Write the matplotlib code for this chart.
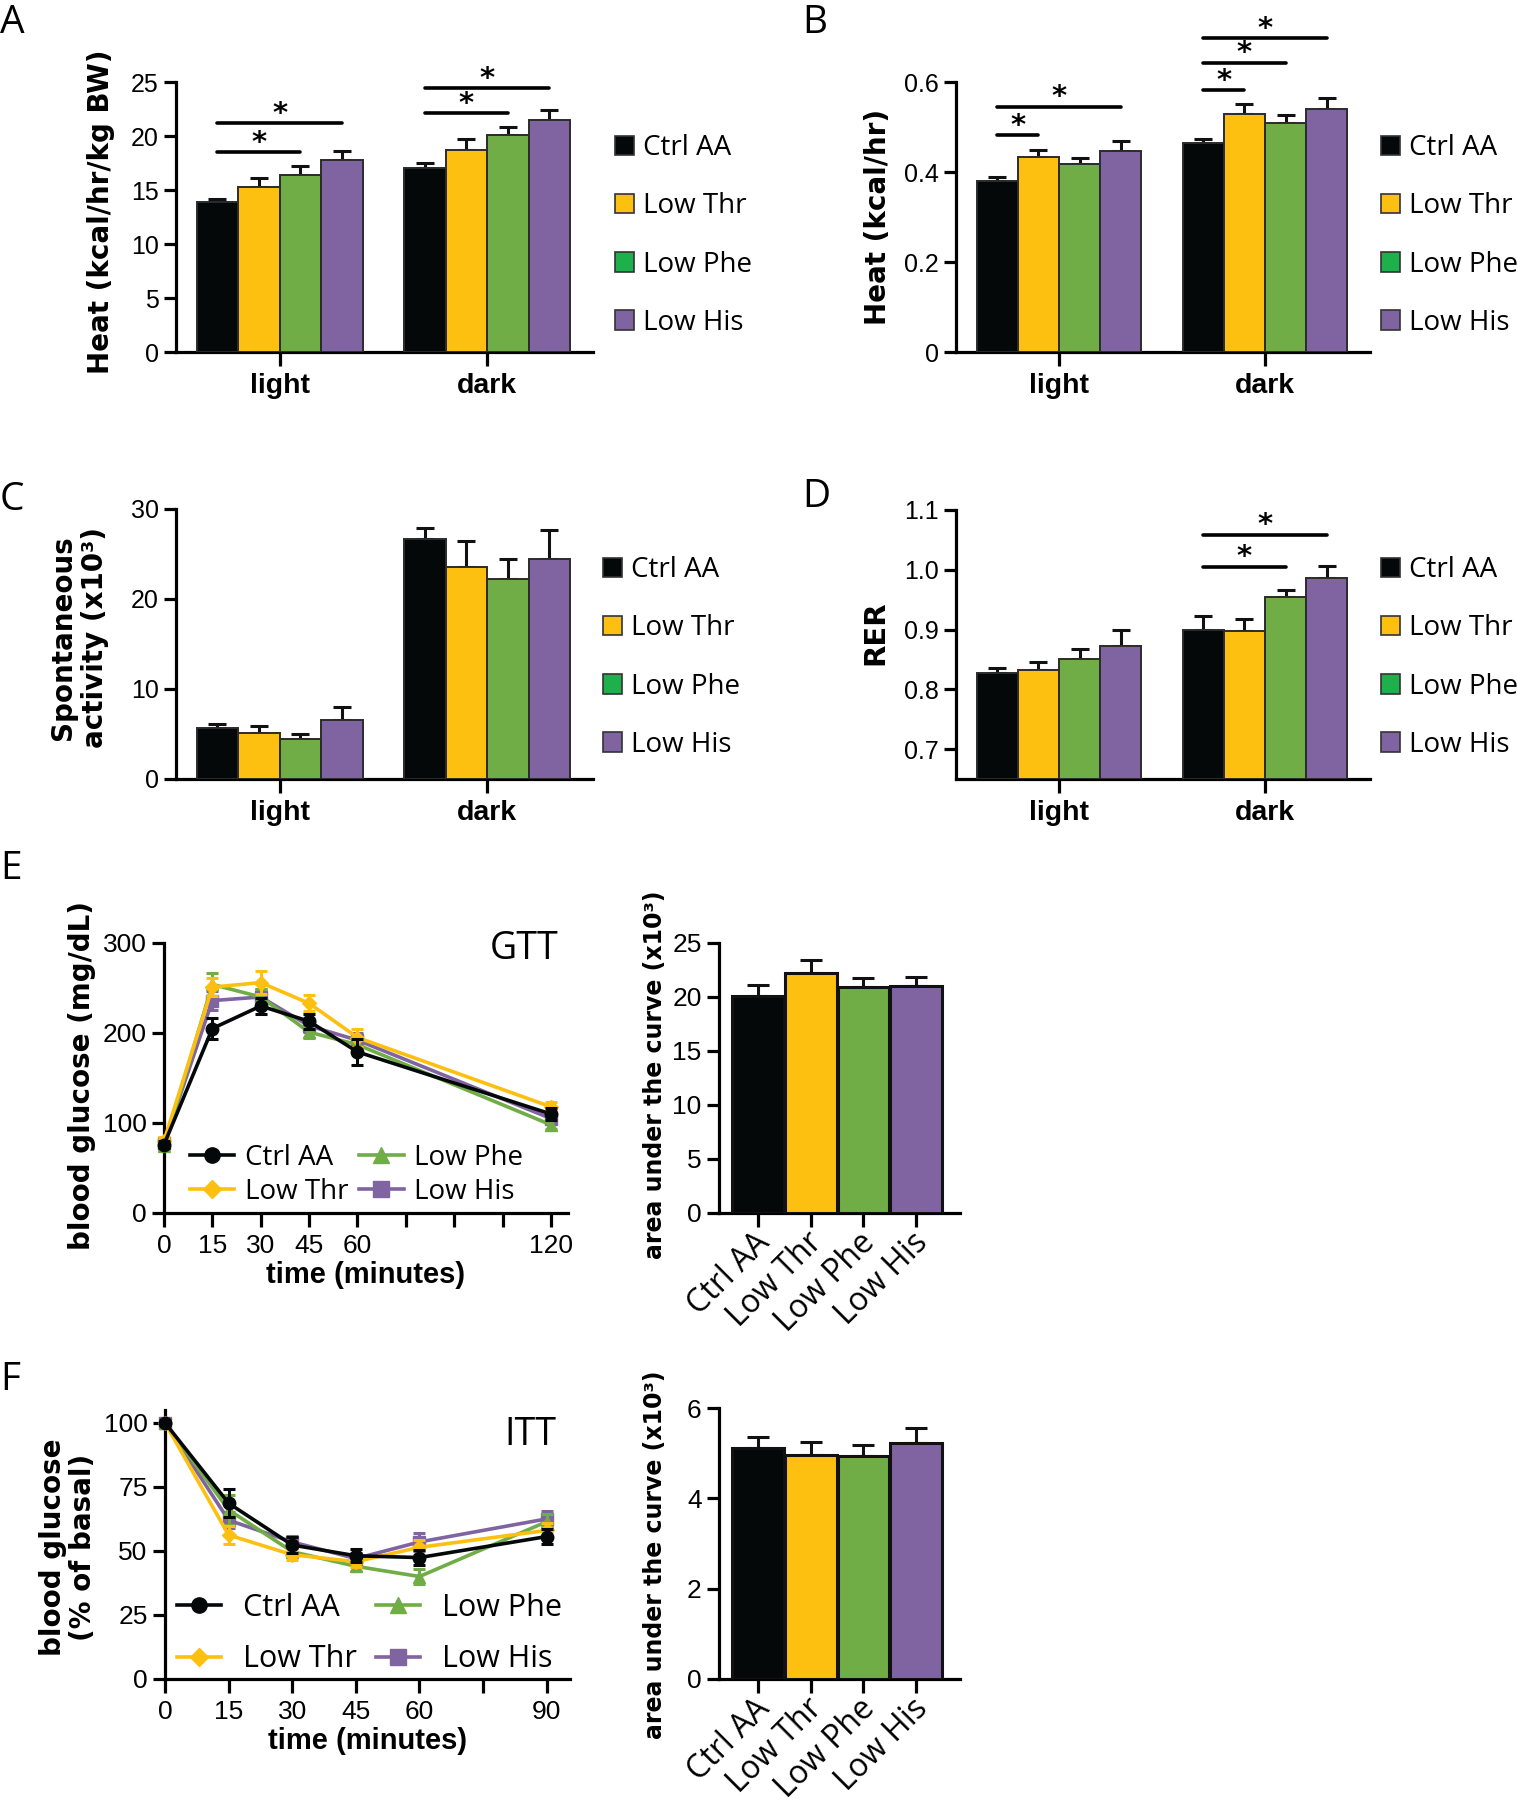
import numpy as np
import matplotlib.pyplot as plt
import matplotlib.transforms as mtransforms
from matplotlib.patches import Patch
from matplotlib.lines import Line2D

groups = ['Ctrl AA', 'Low Thr', 'Low Phe', 'Low His']
periods = ['light', 'dark']
colors = ['#050808', '#FDC010', '#70AD47', '#8064A2']
legend_colors = ['#050808', '#FDC010', '#1EB04B', '#8064A2']
markers = ['o', 'D', '^', 's']

# bar panels: rows = light / dark, columns = groups
heat_bw = [[13.9, 15.3, 16.4, 17.8], [17.0, 18.7, 20.1, 21.5]]
heat_bw_err = [[0.3, 0.8, 0.8, 0.8], [0.5, 1.0, 0.7, 0.9]]
heat_bw_sig = [(0, 0, 2, 18.5), (0, 0, 3, 21.2), (1, 0, 2, 22.1), (1, 0, 3, 24.4)]

heat = [[0.381, 0.434, 0.418, 0.446], [0.465, 0.528, 0.510, 0.540]]
heat_err = [[0.009, 0.016, 0.014, 0.023], [0.009, 0.023, 0.016, 0.024]]
heat_sig = [(0, 0, 1, 0.482), (0, 0, 3, 0.545), (1, 0, 1, 0.582), (1, 0, 2, 0.643), (1, 0, 3, 0.698)]

activity = [[5.7, 5.1, 4.4, 6.6], [26.7, 23.6, 22.2, 24.4]]
activity_err = [[0.4, 0.75, 0.65, 1.4], [1.15, 2.8, 2.2, 3.3]]

rer = [[0.827, 0.833, 0.850, 0.873], [0.900, 0.898, 0.955, 0.987]]
rer_err = [[0.009, 0.013, 0.018, 0.026], [0.023, 0.020, 0.011, 0.020]]
rer_sig = [(1, 0, 2, 1.005), (1, 0, 3, 1.059)]

# glucose tolerance test
gtt_time = [0, 15, 30, 45, 60, 120]
gtt_mean = [[76, 205, 230, 213, 179, 110],
            [80, 251, 256, 233, 195, 118],
            [74, 254, 240, 201, 187, 98],
            [78, 236, 240, 208, 192, 105]]
gtt_err = [[4, 12, 9, 8, 14, 7],
           [5, 10, 13, 9, 10, 5],
           [4, 13, 9, 6, 9, 5],
           [4, 11, 9, 7, 8, 5]]
gtt_auc = [20.1, 22.2, 20.9, 21.05]
gtt_auc_err = [1.0, 1.2, 0.9, 0.8]

# insulin tolerance test
itt_time = [0, 15, 30, 45, 60, 90]
itt_mean = [[100, 68.6, 52.3, 48.1, 47.4, 55.6],
            [100, 56.2, 48.5, 45.8, 51.4, 58.0],
            [100, 66.0, 49.7, 44.0, 40.0, 61.4],
            [100, 62.0, 53.5, 47.0, 53.5, 62.5]]
itt_err = [[1, 5.5, 3, 2.5, 3, 3],
           [1, 3.5, 2, 2, 3, 3],
           [1, 6, 2, 2, 3, 3],
           [1, 3, 2.5, 2, 3.5, 3]]
itt_auc = [5.11, 4.97, 4.93, 5.23]
itt_auc_err = [0.25, 0.28, 0.24, 0.33]

W, H = 1517, 1800
fig = plt.figure(figsize=(W / 100, H / 100), dpi=100)

TEXTFONT = ['Open Sans', 'DejaVu Sans']
TICKFONT = 'Liberation Sans'
BOLDY = 'DejaVu Sans'
BOLDX = 'Liberation Sans'


def px_ax(l, t, r, b):
    return fig.add_axes([l / W, 1 - b / H, (r - l) / W, (b - t) / H])


def ftext(x, y, s, **kw):
    fig.text(x / W, 1 - y / H, s, **kw)


def style(ax, tsize=18):
    for s in ['top', 'right']:
        ax.spines[s].set_visible(False)
    for s in ['left', 'bottom']:
        ax.spines[s].set_linewidth(2.3)
    ax.tick_params(width=2.3, length=8.5, pad=4, labelsize=tsize)
    for lab in ax.get_yticklabels() + ax.get_xticklabels():
        lab.set_family(TICKFONT)


def bar_panel(ax, vals, errs, ylim, yticks, ylabels, sig=()):
    w = 0.2
    for g in range(2):
        for i in range(4):
            x = g + (i - 1.5) * w
            ax.bar(x, vals[g][i] - ylim[0], w, bottom=ylim[0], color=colors[i],
                   edgecolor='#2b2b2b', lw=1.4, zorder=3)
            ax.errorbar(x, vals[g][i], yerr=[[0], [errs[g][i]]], color='#111111',
                        lw=2.2, capsize=6.5, capthick=2.2, zorder=2)
    for g, i, j, y in sig:
        x1 = g + (i - 1.5) * w
        x2 = g + (j - 1.5) * w
        ax.plot([x1, x2], [y, y], color='black', lw=2.6, clip_on=False,
                solid_capstyle='round')
        ax.annotate('*', ((x1 + x2) / 2, y), xytext=(0, 1), textcoords='offset points',
                    ha='center', va='baseline', fontsize=21, fontweight='bold',
                    annotation_clip=False)
    ax.set_xlim(-0.5, 1.51)
    ax.set_ylim(*ylim)
    ax.set_yticks(yticks)
    ax.set_yticklabels(ylabels)
    ax.set_xticks([0, 1])
    ax.set_xticklabels(periods)
    style(ax)
    ax.tick_params(axis='x', length=10, pad=5)
    for lab in ax.get_xticklabels():
        lab.set_fontsize(20.5)
        lab.set_fontweight('bold')
        lab.set_family(BOLDX)


def bar_legend(x, y):
    handles = [Patch(facecolor=c, edgecolor='#333333', lw=1.2) for c in legend_colors]
    fig.legend(handles, groups, loc='upper left', bbox_to_anchor=(x / W, 1 - y / H),
               frameon=False, handlelength=0.7, handleheight=0.7,
               handletextpad=0.3, labelspacing=1.09, borderpad=0, borderaxespad=0,
               prop={'family': TEXTFONT, 'size': 20})


# A
ax = px_ax(176, 82, 593, 352)
bar_panel(ax, heat_bw, heat_bw_err, (0, 25), [0, 5, 10, 15, 20, 25],
          ['0', '5', '10', '15', '20', '25'], heat_bw_sig)
bar_legend(615, 134)
ftext(101, 212, 'Heat (kcal/hr/kg BW)', rotation=90, ha='center', va='center',
      fontsize=20, fontweight='bold', family=BOLDY)

# B
ax = px_ax(956, 82, 1370, 352)
bar_panel(ax, heat, heat_err, (0, 0.6), [0, 0.2, 0.4, 0.6],
          ['0', '0.2', '0.4', '0.6'], heat_sig)
bar_legend(1381, 134)
ftext(878, 217, 'Heat (kcal/hr)', rotation=90, ha='center', va='center',
      fontsize=20, fontweight='bold', family=BOLDY)

# C
ax = px_ax(176, 509, 593, 779)
bar_panel(ax, activity, activity_err, (0, 30), [0, 10, 20, 30], ['0', '10', '20', '30'])
bar_legend(603, 556)
ftext(79, 638, 'Spontaneous\nactivity (x10³)', rotation=90, ha='center', va='center',
      fontsize=20, fontweight='bold', family=BOLDY, linespacing=1.15)

# D
ax = px_ax(956, 510, 1370, 779)
bar_panel(ax, rer, rer_err, (0.65, 1.1), [0.7, 0.8, 0.9, 1.0, 1.1],
          ['0.7', '0.8', '0.9', '1.0', '1.1'], rer_sig)
bar_legend(1381, 556)
ftext(875, 633, 'RER', rotation=90, ha='center', va='center',
      fontsize=21, fontweight='bold', family=BOLDY)


def line_panel(ax, t, means, errs, xlim, xticks, xlabels, ylim, yticks):
    for i in [3, 2, 1, 0]:
        ax.errorbar(t, means[i], yerr=errs[i], color=colors[i], marker=markers[i],
                    ms=9 if markers[i] != 'D' else 7, lw=2.6, capsize=4.5, capthick=2.2,
                    elinewidth=2.2, clip_on=False, zorder=3 + (3 - i))
    ax.set_xlim(*xlim)
    ax.set_ylim(*ylim)
    ax.set_xticks(xticks)
    ax.set_xticklabels(xlabels)
    ax.set_yticks(yticks)
    style(ax, 19)
    ax.tick_params(axis='x', length=10, pad=5)
    ax.set_xlabel('time (minutes)', fontsize=21, fontweight='bold', family=BOLDX, labelpad=2)


def line_legend(ax, x, y, fs, hl, pad, cs, ls):
    handles = [Line2D([], [], color=colors[i], marker=markers[i], lw=2.6,
                      ms=11 if markers[i] != 'D' else 9) for i in range(4)]
    ax.legend(handles, groups, ncol=2, loc='upper left', bbox_to_anchor=(x / W, 1 - y / H),
              bbox_transform=fig.transFigure, frameon=False, handlelength=hl,
              handletextpad=pad, columnspacing=cs, labelspacing=ls, borderpad=0,
              borderaxespad=0, prop={'family': TEXTFONT, 'size': fs})


def auc_panel(ax, vals, errs, ylim, yticks):
    x = np.arange(4)
    ax.bar(x, vals, 0.98, color=colors, edgecolor='#111111', lw=2.2, zorder=3)
    ax.errorbar(x, vals, yerr=[np.zeros(4), errs], fmt='none', ecolor='#111111',
                elinewidth=2.2, capsize=8, capthick=2.2, zorder=2)
    ax.set_xlim(-0.74, 3.83)
    ax.set_ylim(*ylim)
    ax.set_yticks(yticks)
    ax.set_xticks(x)
    ax.set_xticklabels(groups)
    style(ax, 19)
    ax.tick_params(axis='x', length=10, pad=4)
    shift = mtransforms.ScaledTranslation(0.07, -0.055, fig.dpi_scale_trans)
    for lab in ax.get_xticklabels():
        lab.set_rotation(45)
        lab.set_ha('right')
        lab.set_va('center')
        lab.set_rotation_mode('anchor')
        lab.set_fontsize(23)
        lab.set_family(TEXTFONT)
        lab.set_transform(lab.get_transform() + shift)


# E
ftext(0, 850, 'E', ha='left', va='top', fontsize=28, family=TEXTFONT)
ax = px_ax(164, 943, 568, 1213)
line_panel(ax, gtt_time, gtt_mean, gtt_err, (0, 125.3), [0, 15, 30, 45, 60, 75, 90, 105, 120],
           ['0', '15', '30', '45', '60', '', '', '', '120'], (0, 300), [0, 100, 200, 300])
line_legend(ax, 190, 1144, 20, 1.6, 0.38, 0.38, 0.22)
ftext(559, 930, 'GTT', ha='right', va='top', fontsize=27, family=TEXTFONT)
ftext(82, 1076, 'blood glucose (mg/dL)', rotation=90, ha='center', va='center',
      fontsize=20, fontweight='bold', family=BOLDY)

ax = px_ax(719, 943, 960, 1213)
auc_panel(ax, gtt_auc, gtt_auc_err, (0, 25), [0, 5, 10, 15, 20, 25])
ftext(655, 1075, 'area under the curve (x10³)', rotation=90, ha='center', va='center',
      fontsize=17, fontweight='bold', family=BOLDY)

# F
ftext(0, 1361, 'F', ha='left', va='top', fontsize=28, family=TEXTFONT)
ax = px_ax(165, 1410, 570, 1679)
line_panel(ax, itt_time, itt_mean, itt_err, (0, 95.5), [0, 15, 30, 45, 60, 75, 90],
           ['0', '15', '30', '45', '60', '', '90'], (0, 105), [0, 25, 50, 75, 100])
line_legend(ax, 177, 1593, 22, 1.44, 0.73, 0.6, 0.7)
ftext(556, 1416, 'ITT', ha='right', va='top', fontsize=27, family=TEXTFONT)
ftext(68, 1547, 'blood glucose\n(% of basal)', rotation=90, ha='center', va='center',
      fontsize=20, fontweight='bold', family=BOLDY, linespacing=1.1)

ax = px_ax(719, 1408, 960, 1679)
auc_panel(ax, itt_auc, itt_auc_err, (0, 6), [0, 2, 4, 6])
ftext(655, 1555, 'area under the curve (x10³)', rotation=90, ha='center', va='center',
      fontsize=17, fontweight='bold', family=BOLDY)

for lab, x, y in [('A', 0, 4), ('B', 802, 4), ('C', 0, 481), ('D', 802, 478)]:
    ftext(x, y, lab, ha='left', va='top', fontsize=28, family=TEXTFONT)

fig.savefig('out.png', dpi=100)
